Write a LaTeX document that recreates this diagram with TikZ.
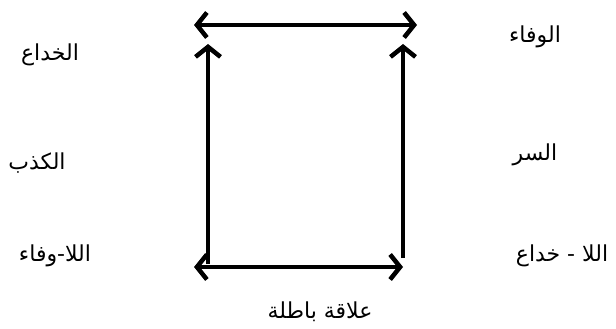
\documentclass[tikz,border=0pt]{standalone}
\usepackage{fontspec}
\usetikzlibrary{arrows.meta}
\TeXXeTstate=1
\newfontfamily\arabicfont[Script=Arabic]{DejaVu Sans}
\tikzset{
  lbl/.style={font=\arabicfont\fontsize{22}{26}\selectfont, inner sep=0pt},
  rel/.style={line width=4.5pt, {Straight Barb[length=10pt,width=25pt,line width=4.5pt]}-{Straight Barb[length=10pt,width=25pt,line width=4.5pt]}},
  up/.style={line width=4.5pt, -{Straight Barb[length=10pt,width=25pt,line width=4.5pt]}}
}
\begin{document}
\begin{tikzpicture}[x=1pt,y=-1pt]
  \useasboundingbox (0,0) rectangle (616,329);

  \coordinate (tl) at (194,25);
  \coordinate (tr) at (417,25);
  \coordinate (bl) at (194,267);
  \coordinate (br) at (403,267);
  \coordinate (lbot) at (208,264);
  \coordinate (ltop) at (208,44);
  \coordinate (rbot) at (403,258);
  \coordinate (rtop) at (403,44);

  \draw[rel] (tl) -- (tr);
  \draw[rel] (bl) -- (br);
  \draw[up] (lbot) -- (ltop);
  \draw[up] (rbot) -- (rtop);

  \node[lbl] (khida)   at (50,55)   {\beginR الخداع\endR};
  \node[lbl] (kadhib)  at (37,163)  {\beginR الكذب\endR};
  \node[lbl] (lawafa)  at (55,256)  {\beginR اللا-وفاء\endR};
  \node[lbl] (wafa)    at (535,37)  {\beginR الوفاء\endR};
  \node[lbl] (sirr)    at (535,155) {\beginR السر\endR};
  \node[lbl] (lakhida) at (562,256) {\beginR اللا - خداع\endR};
  \node[lbl] (batila)  at (320,312) {\beginR علاقة باطلة\endR};
\end{tikzpicture}
\end{document}
